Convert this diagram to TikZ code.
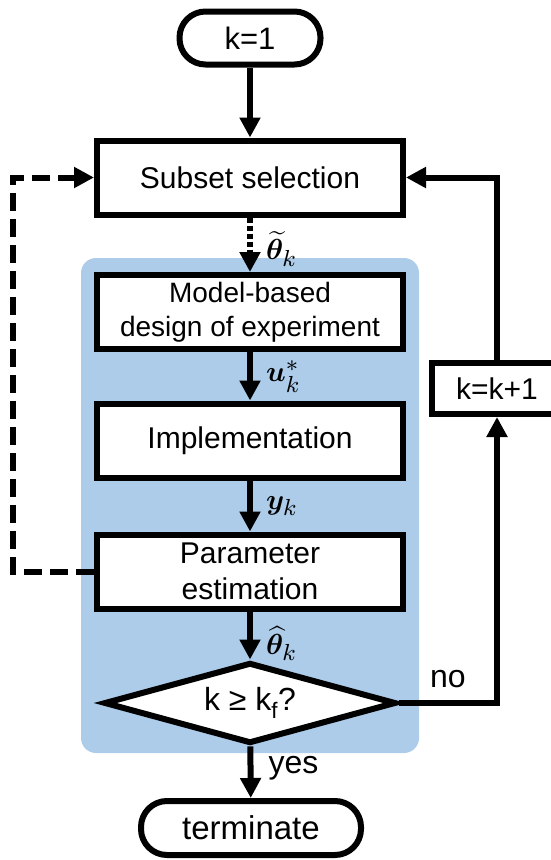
\documentclass[tikz,border=0pt]{standalone}
\usepackage{amsmath,bm}
\usepackage{fontspec}
\setmainfont{Liberation Sans}
\usetikzlibrary{shapes.geometric,arrows.meta}
\definecolor{bluebg}{RGB}{172,204,234}
\DeclareMathSizes{10}{10}{8}{6}
\newcommand\mlab[1]{\scalebox{2.9}{\normalsize$#1$}}
\tikzset{
  procbox/.style={draw, line width=6pt, fill=white, minimum width=306pt, minimum height=74pt,
    inner sep=0pt, align=center, font=\fontsize{30}{36}\selectfont},
  termbox/.style={draw, line width=6pt, fill=white, rounded corners=26pt, inner sep=0pt,
    align=center},
  arr/.style={line width=6pt, -{Triangle[length=20pt,width=20pt]}},
  dasharr/.style={arr, dash pattern=on 18pt off 8pt},
  dotarr/.style={arr, dash pattern=on 5pt off 3pt},
  mathlab/.style={right, inner sep=0pt, xshift=13pt},
  txtlab/.style={inner sep=0pt, font=\fontsize{32}{38}\selectfont}
}
\begin{document}
\begin{tikzpicture}[x=1pt,y=-1pt]
\useasboundingbox (0,0) rectangle (551,860);
% blue background
\fill[bluebg, rounded corners=15pt] (81,258) rectangle (419,753);
% nodes
\node[termbox, minimum width=141pt, minimum height=53pt, font=\fontsize{31}{36}\selectfont] (start) at (250,38) {k=1};
\node[procbox] (sub) at (250,177.5) {Subset selection};
\node[procbox, font=\fontsize{28}{34}\selectfont] (mbd) at (250,312) {Model-based\\design of experiment};
\node[procbox] (impl) at (250,440.5) {Implementation};
\node[procbox] (pe) at (250,571.5) {Parameter\\estimation};
\node[draw, diamond, line width=6pt, fill=white, inner sep=0pt, aspect=3.5,
  minimum width=292pt, minimum height=81pt, font=\fontsize{32}{36}\selectfont] (dia) at (250,703) {k ≥ k\textsubscript{f}?};
\node[draw, line width=6pt, fill=white, minimum width=130pt, minimum height=51pt, inner sep=0pt,
  font=\fontsize{30}{36}\selectfont] (kk) at (497,388.5) {k=k+1};
\node[termbox, minimum width=220pt, minimum height=54pt, font=\fontsize{33}{38}\selectfont] (term) at (251,828) {terminate};
\coordinate (lx) at (13,0);
% connectors
\draw[arr] (start) -- (sub);
\draw[dotarr] (sub) -- node[mathlab, yshift=-4pt] {\mlab{\widetilde{\boldsymbol{\theta}}_{k}}} (mbd);
\draw[arr] (mbd) -- node[mathlab] {\mlab{\boldsymbol{u}_{k}^{*}}} (impl);
\draw[arr] (impl) -- node[mathlab] {\mlab{\boldsymbol{y}_{k}}} (pe);
\draw[arr] (pe) -- node[mathlab, yshift=-8pt] {\mlab{\widehat{\boldsymbol{\theta}}_{k}}} (dia);
\draw[arr] (dia) -- node[txtlab, right, xshift=15pt, yshift=4pt] {yes} (term);
\draw[arr] (dia.east) -- node[txtlab, above, yshift=12pt] {no} (dia.east -| kk.south) -- (kk.south);
\draw[arr] (kk.north) |- (sub.east);
\draw[dasharr] (pe.west) -- (pe.west -| lx) |- (sub.west);
\end{tikzpicture}
\end{document}
